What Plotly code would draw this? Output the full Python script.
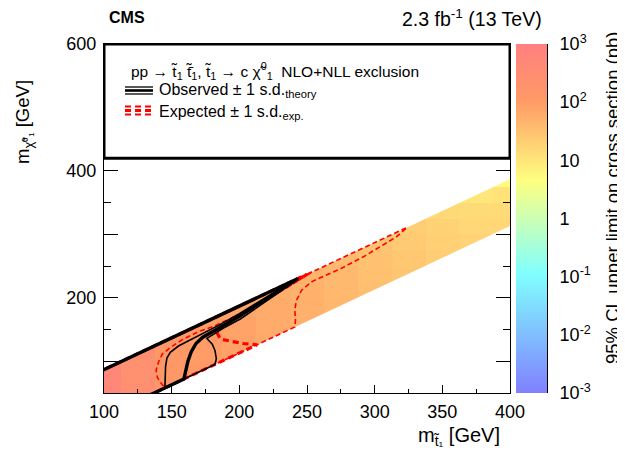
import math
import plotly.graph_objects as go

# ---------------- data ----------------
# stop-mass bin centres (GeV) and the four Delta-m rows of the scan (GeV)
mstop = [100, 125, 150, 175, 200, 225, 250, 275, 300, 325, 350, 375, 400]
dm_rows = [12.5, 37.5, 62.5, 87.5]
# 95% CL upper limit on the cross section (pb), one list per Delta-m row
limit_dm12p5 = [520, 240, 115, 95, 75, 58, 48, 38, 30, 21, 15, 10, 5.5]
limit_dm37p5 = [560, 250, 115, 100, 78, 60, 50, 40, 31, 24, 18, 14, 11]
limit_dm62p5 = [600, 260, 120, 100, 80, 62, 52, 42, 33, 26, 20, 16, 14]
limit_dm87p5 = [620, 270, 125, 105, 82, 64, 54, 43, 34, 27, 22, 18, 16]
# edges of the scanned region, Delta-m = m_stop - m_LSP (GeV)
band_dm = [13, 87]

# exclusion contours (m_stop, m_LSP) in GeV
obs_x = [95, 243, 230, 215, 200, 188, 179, 173, 168, 164.5, 162, 160.5, 159, 137, 130]
obs_y = [82, 230, 212, 191, 171, 156, 146, 138, 128, 115, 100, 86, 72, 50, 43]
obs_m1_x = [95, 242, 230, 215, 200, 185, 173, 163, 155, 149, 146.5, 145.5, 145.5, 145, 137, 130]
obs_m1_y = [82, 229, 214, 194, 175, 157, 144, 133, 124, 114, 105, 92, 75, 58, 50, 43]
obs_p1_x = [95, 244, 231, 216, 201, 188, 176, 180, 182, 183, 182, 137, 130]
obs_p1_y = [82, 231, 211, 189, 167, 152, 136, 127, 117, 104, 95, 50, 43]
exp_x = [95, 250, 232, 215, 200, 190, 184, 183.5, 186, 194, 203, 213, 137, 130]
exp_y = [82, 237, 214, 192, 173, 160, 151, 145, 135, 131.5, 128, 126, 50, 43]
exp_m1_x = [95, 254, 236, 218, 203, 181, 170, 157, 148, 143, 140.5, 138.5, 139.5, 142, 145, 137, 130]
exp_m1_y = [82, 241, 217, 195, 177, 155, 147, 133, 120, 111, 100, 86, 74, 66, 58, 50, 43]
exp_p1_x = [95, 324, 316, 292, 275, 265, 254, 246, 242, 241, 241.5, 241, 137, 130]
exp_p1_y = [82, 311, 296, 265, 246, 236, 226, 212, 195, 180, 165, 154, 50, 43]

cbar_tickvals = [-3, -2, -1, 0, 1, 2, 3]
cbar_ticktext = ["10<sup>-3</sup>", "10<sup>-2</sup>", "10<sup>-1</sup>", "1", "10",
                 "10<sup>2</sup>", "10<sup>3</sup>"]

# ---------------- build heat-map table ----------------
limits = [limit_dm12p5, limit_dm37p5, limit_dm62p5, limit_dm87p5]
bin_w = 25.0
y_centres = [12.5 + bin_w * k for k in range(16)]
z = [[None] * len(mstop) for _ in y_centres]
for i, ms in enumerate(mstop):
    for dm, row in zip(dm_rows, limits):
        yk = int(round((ms - dm - 12.5) / bin_w))
        if 0 <= yk < len(y_centres):
            z[yk][i] = math.log10(row[i])

FONT = "Liberation Sans, Arial, Helvetica, sans-serif"

# page offset (browser body margin) and pixel helpers for layout placement
OFF = 8
W, H = 625 - OFF, 450 - OFF
L, R, T, B = 104, 547, 44, 393   # plot frame in screen pixels
def px_x(p):
    return (p - L) / (R - L)
def px_y(p):
    return (B - p) / (B - T)

colorscale = [[0.0, "rgb(128,128,255)"], [0.34, "rgb(128,255,255)"],
              [0.61, "rgb(255,255,128)"], [0.84, "rgb(255,153,102)"],
              [1.0, "rgb(255,128,128)"]]

fig = go.Figure()
fig.add_trace(go.Heatmap(x=mstop, y=y_centres, z=z, coloraxis="coloraxis",
                         hoverinfo="skip", zsmooth=False))

# white masks outside the scanned Delta-m band
x_lo, x_hi = mstop[0] - bin_w / 2, mstop[-1] + bin_w / 2
fig.add_trace(go.Scatter(x=[x_lo, x_hi, x_hi, x_lo, x_lo],
                         y=[x_lo - band_dm[0], x_hi - band_dm[0], 700, 700, x_lo - band_dm[0]],
                         fill="toself", fillcolor="white", line=dict(width=0),
                         mode="lines", hoverinfo="skip", showlegend=False))
fig.add_trace(go.Scatter(x=[x_lo, x_hi, x_hi, x_lo, x_lo],
                         y=[x_lo - band_dm[1], x_hi - band_dm[1], -50, -50, x_lo - band_dm[1]],
                         fill="toself", fillcolor="white", line=dict(width=0),
                         mode="lines", hoverinfo="skip", showlegend=False))

def line(xs, ys, color, width, dash="solid"):
    fig.add_trace(go.Scatter(x=xs, y=ys, mode="lines",
                             line=dict(color=color, width=width, dash=dash),
                             hoverinfo="skip", showlegend=False))

RED = "rgb(255,0,0)"
line(exp_m1_x, exp_m1_y, RED, 1.6, "5px,3px")
line(exp_p1_x, exp_p1_y, RED, 1.6, "5px,3px")
line(exp_x, exp_y, RED, 3.2, "6px,4px")
line(obs_m1_x, obs_m1_y, "black", 1.6)
line(obs_p1_x, obs_p1_y, "black", 1.6)
line(obs_x, obs_y, "black", 3.4)

# dummy traces so the extra axes are drawn
fig.add_trace(go.Scatter(x=[None], y=[None], yaxis="y2", showlegend=False, hoverinfo="skip"))
fig.add_trace(go.Scatter(x=[None], y=[None], yaxis="y3", showlegend=False, hoverinfo="skip"))

shapes = [
    dict(type="rect", xref="x", yref="y", x0=100, x1=400, y0=420, y1=600,
         fillcolor="white", line=dict(color="black", width=3), layer="above"),
]
# legend icons
for yy, w in [(87, 1.3), (90.5, 2.6), (94, 1.3)]:
    shapes.append(dict(type="line", xref="paper", yref="paper",
                       x0=px_x(125), x1=px_x(153), y0=px_y(yy), y1=px_y(yy),
                       line=dict(color="black", width=w), layer="above"))
for yy, w in [(106.5, 2.2), (110.5, 3), (114.5, 2.2)]:
    shapes.append(dict(type="line", xref="paper", yref="paper",
                       x0=px_x(125), x1=px_x(154), y0=px_y(yy), y1=px_y(yy),
                       line=dict(color=RED, width=w, dash="6px,4px"), layer="above"))

annotations = [
    dict(text="<b>CMS</b>", x=px_x(107), y=px_y(18), xanchor="left", yanchor="middle",
         font=dict(size=16)),
    dict(text="2.3 fb<sup>-1</sup> (13 TeV)", x=px_x(544), y=px_y(18), xanchor="right",
         yanchor="middle", font=dict(size=19.5)),
    dict(text="m<sub>t̃₁</sub> [GeV]", x=px_x(502), y=px_y(436), xanchor="right",
         yanchor="middle", font=dict(size=20)),
    dict(text="m<sub>χ̃⁰₁</sub> [GeV]", x=px_x(24), y=px_y(122), xanchor="center",
         yanchor="middle", textangle=-90, font=dict(size=18.5)),
    dict(text="95% CL upper limit on cross section (pb)", x=px_x(612), y=px_y(198),
         xanchor="center", yanchor="middle", textangle=-90, font=dict(size=18.5)),
    dict(text="pp → t̃<sub>1</sub> t̃̄<sub>1</sub>, t̃<sub>1</sub> → c χ̃<sup>0</sup><sub>1</sub>  NLO+NLL exclusion",
         x=px_x(129), y=px_y(71), xanchor="left", yanchor="middle", font=dict(size=15.5)),
    dict(text="Observed ± 1 s.d.<sub>theory</sub>", x=px_x(157), y=px_y(91),
         xanchor="left", yanchor="middle", font=dict(size=16)),
    dict(text="Expected ± 1 s.d.<sub>exp.</sub>", x=px_x(157), y=px_y(112),
         xanchor="left", yanchor="middle", font=dict(size=16)),
]
for a in annotations:
    a.update(xref="paper", yref="paper", showarrow=False)
    a["font"].update(family=FONT, color="black")

fig.update_layout(
    width=W, height=H,
    margin=dict(l=L - OFF, r=W - (R - OFF), t=T - OFF, b=H - (B - OFF), pad=0),
    paper_bgcolor="white", plot_bgcolor="white",
    font=dict(family=FONT, color="black"),
    showlegend=False,
    coloraxis=dict(
        cmin=-3, cmax=3, colorscale=colorscale,
        colorbar=dict(x=px_x(516), xanchor="left", xpad=0, thickness=31,
                      thicknessmode="pixels", len=1, lenmode="fraction",
                      y=0.5, yanchor="middle", ypad=0, outlinewidth=0,
                      ticks="", showticklabels=False),
    ),
    xaxis=dict(domain=[0, px_x(510)], range=[100, 400], tickmode="array",
               tickvals=[100, 150, 200, 250, 300, 350, 400], ticks="inside",
               ticklen=8, tickwidth=1, tickcolor="black",
               minor=dict(dtick=25, tick0=100, ticks="inside", ticklen=4, tickcolor="black"),
               showline=True, linecolor="black", linewidth=1, mirror="ticks",
               showgrid=False, zeroline=False, tickfont=dict(size=18),
               ticklabelstandoff=2, automargin=False),
    yaxis=dict(range=[50, 600], tickmode="array", tickvals=[200, 400, 600],
               ticks="inside", ticklen=14, tickwidth=1, tickcolor="black",
               minor=dict(dtick=50, tick0=0, ticks="inside", ticklen=7, tickcolor="black"),
               showline=True, linecolor="black", linewidth=1, mirror="ticks",
               showgrid=False, zeroline=False, tickfont=dict(size=18),
               ticklabelstandoff=3, automargin=False),
    yaxis3=dict(overlaying="y", anchor="x", side="left", range=[50, 600],
                tickmode="array", tickvals=[100, 300, 500], ticks="inside",
                ticklen=14, tickwidth=1, tickcolor="black", showticklabels=False,
                mirror="ticks", showline=False, showgrid=False, zeroline=False,
                automargin=False),
    yaxis2=dict(overlaying="y", anchor="free", position=1.0, side="right",
                range=[-3, 3], tickmode="array", tickvals=cbar_tickvals,
                ticktext=cbar_ticktext, ticks="inside", ticklen=13, tickcolor="black",
                minor=dict(tickmode="array",
                           tickvals=[n + math.log10(k) for n in range(-3, 3) for k in range(2, 10)],
                           ticks="inside", ticklen=6, tickcolor="black"),
                showline=True, linecolor="black", linewidth=1, showgrid=False,
                zeroline=False, tickfont=dict(size=18), ticklabelstandoff=8,
                automargin=False),
    shapes=shapes,
    annotations=annotations,
)

fig.write_html("out.html")
